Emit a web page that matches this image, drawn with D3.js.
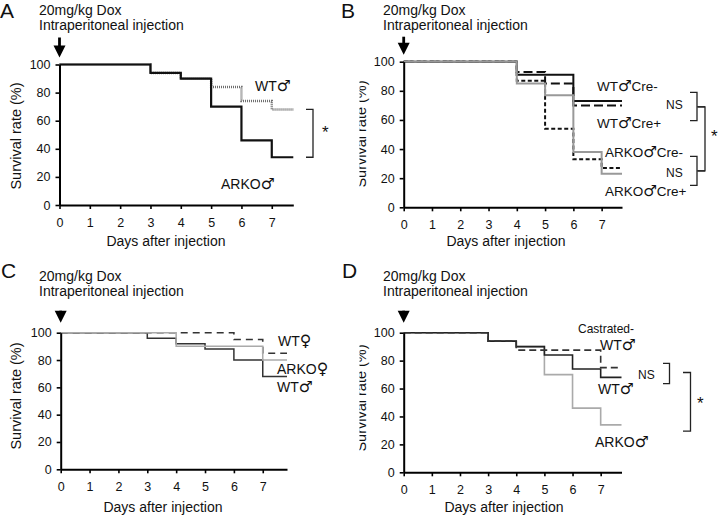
<!DOCTYPE html>
<html><head><meta charset="utf-8">
<script src="https://cdn.jsdelivr.net/npm/d3@7"></script>
<style>
body{margin:0;background:#fff}
svg{display:block}
text{font-family:"Liberation Sans",Arial,"DejaVu Sans",sans-serif;fill:#111}
tspan.sym{font-family:"DejaVu Sans",sans-serif}
</style>
</head><body><svg id="c" width="720" height="518"></svg>
<script>
// ---------- data ----------
const dayTicks = [0,1,2,3,4,5,6,7];
const rateTicks = [0,20,40,60,80,100];
const doseLine1 = "20mg/kg Dox";
const doseLine2 = "Intraperitoneal injection";
const xTitle = "Days after injection";
const yTitle = "Survival rate (%)";

const timesA = [0,3,4,5,6,7];
const aWTmale   = [100,94,90,84,74,68];
const aARKOmale = [100,94,90,70,46,34];

const timesB = [0,4,5,6,7];
const bWTcreMinus   = [100,91,91,73,73];
const bWTcrePlus    = [100,93,85,70,70];
const bARKOcreMinus = [100,85,77,38,23];
const bARKOcrePlus  = [100,87,54,33,27];

const timesC = [0,3,4,5,6,7];
const cWTfemale   = [100,100,100,100,95,85];
const cARKOfemale = [100,100,90,90,90,80];
const cWTmale     = [100,96,92,88,80,68];

const timesD = [0,3,4,5,6,7];
const dCastratedWT = [100,94,87.5,87.5,87.5,75];
const dWTmale      = [100,94,90,84,74,68];
const dARKOmale    = [100,94,90,70,46,34];

// ---------- drawing ----------
const svg = d3.select("#c");
const defs = svg.append("defs");

function addLabel(g, x, y, str, size, fitWidth){
  const t = g.append("text").attr("x", x).attr("y", y).style("font-size", size+"px");
  if (fitWidth){ t.attr("textLength", fitWidth).attr("lengthAdjust","spacingAndGlyphs"); }
  str.split(/([♂♀])/).filter(s => s.length).forEach(part => {
    const ts = t.append("tspan").text(part);
    if (part === "♂" || part === "♀") ts.attr("class","sym").style("font-size", (size*1.12)+"px");
  });
}

function panel(cfg){
  const outer = svg.append("g");
  let g = outer.append("g");
  const clipped = outer.append("g");
  if (cfg.clipX !== undefined){
    const id = "clip"+cfg.letter;
    defs.append("clipPath").attr("id", id).append("rect")
      .attr("x", cfg.clipX).attr("y", cfg.clipY).attr("width", 720).attr("height", 259);
    clipped.attr("clip-path", `url(#${id})`);
  }
  const x = d3.scaleLinear().domain([0, cfg.xMax]).range(cfg.xRange);
  const y = d3.scaleLinear().domain([0, 100]).range(cfg.yRange);

  // panel letter
  g.append("text").attr("x", cfg.letterPos[0]).attr("y", cfg.letterPos[1])
    .style("font-size","21px").text(cfg.letter);
  // dose text
  g.append("text").attr("x", cfg.dosePos[0]).attr("y", cfg.dosePos[1])
    .style("font-size","14px").text(doseLine1);
  g.append("text").attr("x", cfg.dosePos[0]).attr("y", cfg.dosePos[1]+15)
    .style("font-size","14px").text(doseLine2);
  // arrow
  const ax = x(0), aTop = y(100) - cfg.arrow[0], aTip = y(100) - cfg.arrow[1];
  g.append("line").attr("x1", ax).attr("x2", ax).attr("y1", aTop).attr("y2", aTip - 8)
    .attr("stroke","#000").attr("stroke-width",2.8);
  g.append("path").attr("d", `M${ax-6},${aTip-12}L${ax+6},${aTip-12}L${ax},${aTip}Z`).attr("fill","#000");

  // series
  const line = d3.line().curve(d3.curveStepAfter).x(d => x(d[0])).y(d => y(d[1]));
  cfg.series.forEach(s => {
    const pts = s.times.map((t,i) => [t, s.values[i]]);
    pts.push([cfg.xMax, s.values[s.values.length-1]]);
    g.append("path").attr("d", line(pts)).attr("fill","none")
      .attr("stroke", s.color).attr("stroke-width", s.width)
      .attr("stroke-dasharray", s.dash || null);
  });

  // axes
  const xa = d3.axisBottom(x).tickValues(dayTicks).tickSize(4).tickSizeOuter(0).tickPadding(9).tickFormat(d3.format("d"));
  const ya = d3.axisLeft(y).tickValues(rateTicks).tickSize(4).tickSizeOuter(0).tickPadding(5);
  const gx = g.append("g").attr("transform", `translate(0,${y(0)})`).call(xa);
  const gy = g.append("g").attr("transform", `translate(${x(0)},0)`).call(ya);
  [gx, gy].forEach(a => {
    a.select(".domain").attr("stroke","#000").attr("stroke-width",2);
    a.selectAll(".tick line").attr("stroke","#000").attr("stroke-width",1.6);
    a.selectAll(".tick text").style("font-size","12.5px").style("font-family",'"Liberation Sans",Arial,sans-serif').attr("fill","#111");
  });
  // axis titles
  g.append("text").attr("x", cfg.xTitlePos[0]).attr("y", cfg.xTitlePos[1])
    .attr("text-anchor","middle").style("font-size","14px").text(xTitle);
  clipped.append("text").attr("transform", `translate(${cfg.yTitlePos[0]},${cfg.yTitlePos[1]}) rotate(-90)`)
    .attr("text-anchor","middle").style("font-size","14.5px").text(yTitle);

  // labels
  cfg.labels.forEach(l => addLabel(g, l[0], l[1], l[2], l[3]||14, l[4]));
  // brackets: [xLeft, xRight, vTop, vBottom]
  (cfg.brackets||[]).forEach(b => {
    g.append("path").attr("d", `M${b[0]},${y(b[2])}H${b[1]}V${y(b[3])}H${b[0]}`)
      .attr("fill","none").attr("stroke","#222").attr("stroke-width",1.3);
  });
  (cfg.links||[]).forEach(b => {
    g.append("line").attr("x1", b[0]).attr("x2", b[1]).attr("y1", y(b[2])).attr("y2", y(b[2]))
      .attr("stroke","#222").attr("stroke-width",1.3);
  });
  (cfg.stars||[]).forEach(s => {
    g.append("text").attr("x", s[0]).attr("y", y(s[1])).style("font-size","17px").text("*");
  });
}

const black = "#111", dark = "#333", gray = "#999", lgray = "#aaa";

panel({
  letter:"A", letterPos:[0,18], dosePos:[39,15], arrow:[27,7],
  xMax:7.71, xRange:[59.5,293.3], yRange:[205,64.5],
  xTitlePos:[166,246], yTitlePos:[21,136],
  series:[
    {times:timesA, values:aWTmale, color:"#6e6e6e", width:2.4, dash:"1,1"},
    {times:timesA, values:aARKOmale, color:black, width:2.2}
  ],
  labels:[[255,91,"WT♂"],[221,189,"ARKO♂"]],
  brackets:[[306,313,68,34]],
  stars:[[322,48]]
});

panel({
  letter:"B", letterPos:[341,18], dosePos:[383,15], arrow:[25,7],
  xMax:7.72, xRange:[403.7,622], yRange:[207.3,61.7],
  xTitlePos:[506,246], yTitlePos:[365.5,134], clipX:359.5, clipY:0,
  series:[
    {times:timesB, values:bWTcreMinus, color:black, width:2},
    {times:timesB, values:bWTcrePlus, color:black, width:2, dash:"9,4"},
    {times:timesB, values:bARKOcrePlus, color:black, width:2, dash:"4,2.5"},
    {times:timesB, values:bARKOcreMinus, color:gray, width:2}
  ],
  labels:[[597,91,"WT♂Cre-",13.5],[597,128,"WT♂Cre+",13.5],[605,157,"ARKO♂Cre-",13.5],[605,196,"ARKO♂Cre+",13.5],
          [666,109,"NS",12],[666,177,"NS",12]],
  brackets:[[690,697,79,59.5],[690,697,35,15],[698,705,69,25]],
  links:[[697,705,69],[697,705,25]],
  stars:[[711,45]]
});

panel({
  letter:"C", letterPos:[1,278], dosePos:[39,281], arrow:[22,10],
  xMax:7.84, xRange:[60.7,287], yRange:[469.3,332.7],
  xTitlePos:[163,512], yTitlePos:[21,396],
  series:[
    {times:timesC, values:cWTmale, color:dark, width:1.5},
    {times:timesC, values:cWTfemale, color:dark, width:1.6, dash:"7,5"},
    {times:timesC, values:cARKOfemale, color:lgray, width:1.5}
  ],
  labels:[[278,346,"WT♀"],[277,374,"ARKO♀"],[277,392,"WT♂"]]
});

panel({
  letter:"D", letterPos:[342,278], dosePos:[383,281], arrow:[22,10],
  xMax:7.74, xRange:[403.7,621.5], yRange:[472.3,332.7],
  xTitlePos:[504,512], yTitlePos:[365.5,398], clipX:359.5, clipY:260,
  series:[
    {times:timesD, values:dARKOmale, color:lgray, width:1.6},
    {times:timesD, values:dWTmale, color:"#222", width:1.6},
    {times:timesD, values:dCastratedWT, color:dark, width:1.6, dash:"7,4"}
  ],
  labels:[[578,333,"Castrated-",13.5,56],[600,350,"WT♂"],[598,394,"WT♂"],[595,447,"ARKO♂"],[638,379,"NS",12]],
  brackets:[[663,669.5,78,63.5],[683,690.5,71.5,29.5]],
  stars:[[697,45]]
});
</script>
</body></html>
